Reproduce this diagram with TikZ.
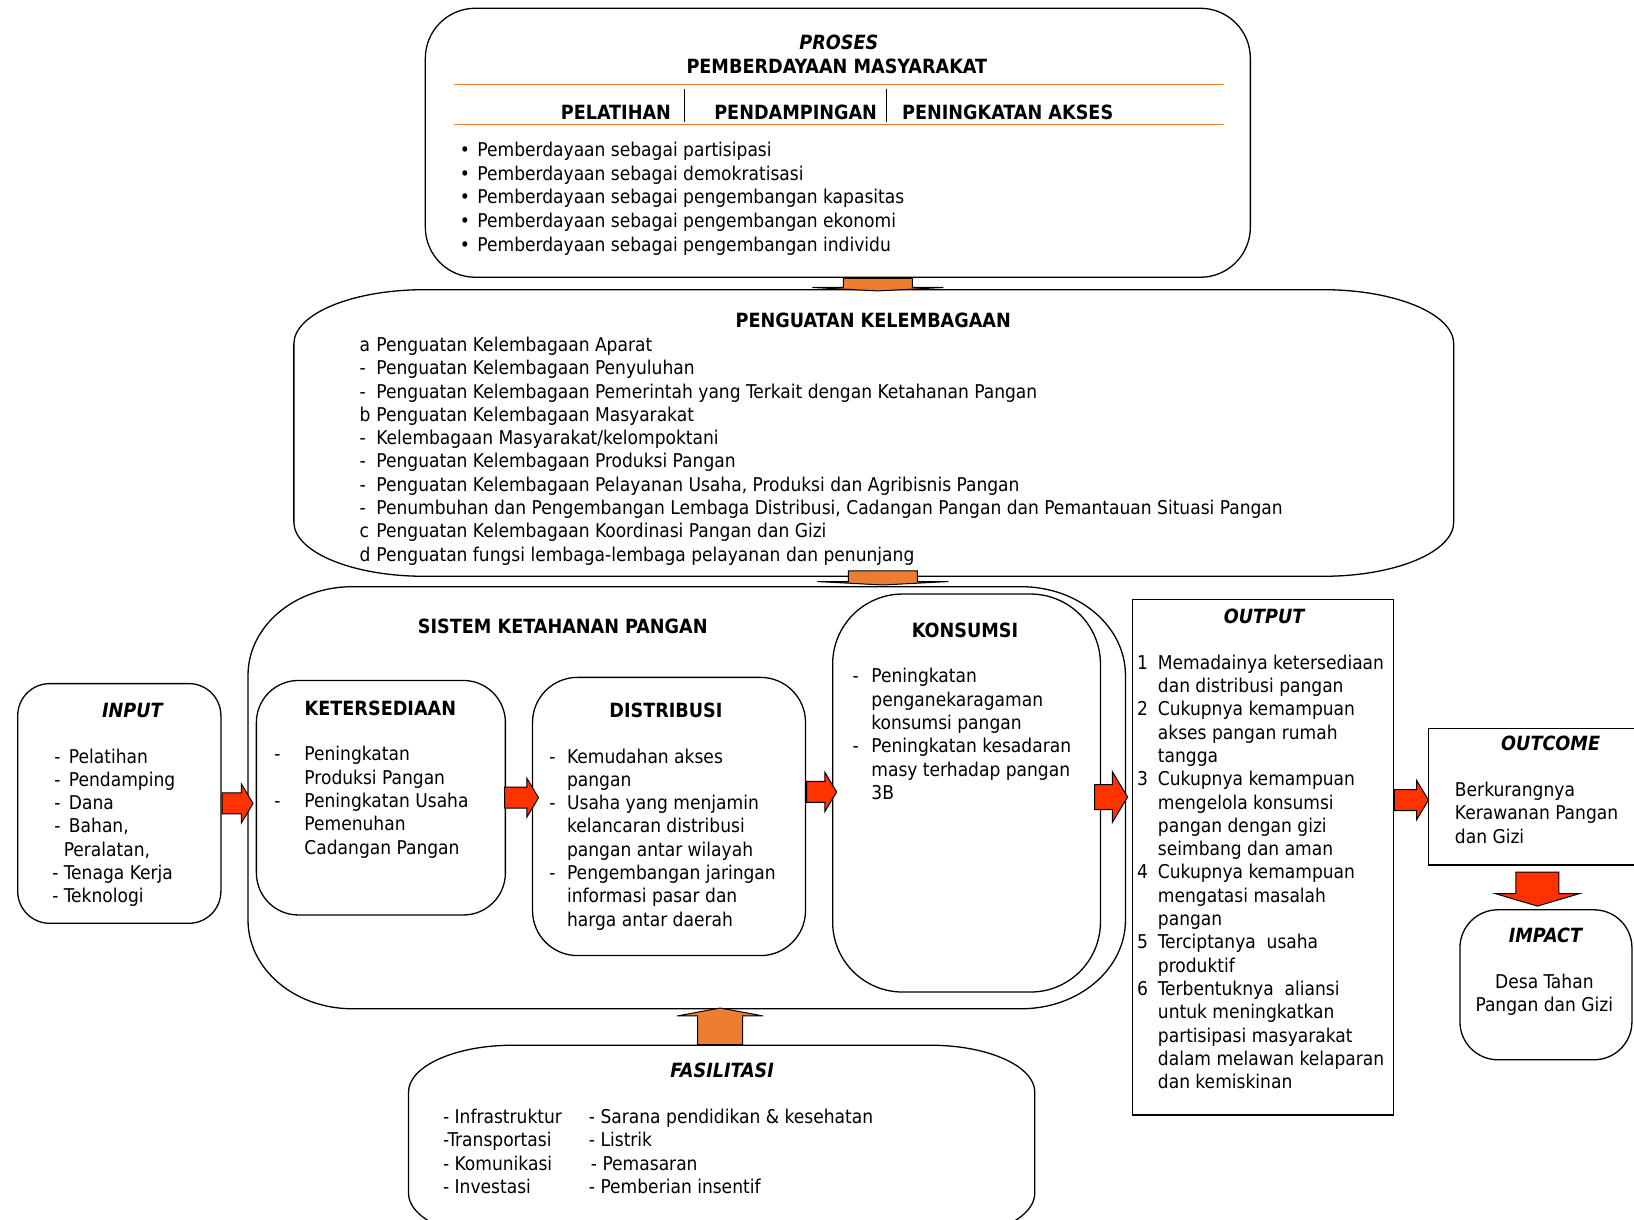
\documentclass[tikz,border=0pt]{standalone}
\usepackage{fontspec}
\setmainfont{DejaVu Sans Condensed}
\usetikzlibrary{shapes.arrows}

\definecolor{oranye}{RGB}{237,125,49}
\definecolor{merah}{RGB}{255,51,0}
\newcommand{\ukuran}{\fontsize{19}{23.3}\selectfont}
\newcommand{\ukuranjudul}{\fontsize{19.6}{23.3}\selectfont}
% kotak dengan sudut elips: x1 y1 x2 y2 rx ry
\newcommand{\kotaklonjong}[6]{%
    \draw[garis] (#1,#2+#6) arc[start angle=180, end angle=270, x radius=#5, y radius=#6]
        -- (#3-#5,#2) arc[start angle=270, end angle=360, x radius=#5, y radius=#6]
        -- (#3,#4-#6) arc[start angle=0, end angle=90, x radius=#5, y radius=#6]
        -- (#1+#5,#4) arc[start angle=90, end angle=180, x radius=#5, y radius=#6] -- cycle;}

\begin{document}
\begin{tikzpicture}[
    x=1.0421pt, y=-1.0421pt,
    font=\ukuran,
    garis/.style = {draw, line width=1.3pt},
    kotak/.style = {garis, inner sep=0pt},
    bulat/.style = {kotak, rounded corners=#1},
    wadah/.style = {inner sep=0pt},
    judul/.style = {font=\ukuranjudul\bfseries, anchor=base, yshift=-1.5pt},
    judulmiring/.style = {font=\ukuranjudul\bfseries\itshape, anchor=base, yshift=-1.5pt},
    daftar/.style = {anchor=base west, inner sep=0pt, yshift=-1.8pt},
    panahmerah/.style = {single arrow, draw, line width=1pt, fill=merah, inner sep=0pt, inner ysep=10pt,
        single arrow head extend=9pt, single arrow tip angle=118, anchor=tail},
    panahoranye/.style = {single arrow, draw, line width=1pt, fill=oranye, inner sep=0pt, anchor=tail},
]
    \useasboundingbox (0,0) rectangle (1568,1170);
    \clip (0,0) rectangle (1568,1170);

    % PROSES
    \node[bulat=50pt, minimum width=825pt, minimum height=269pt] (proses) at (804,137) {};
    \node[judulmiring] (prosesjudul) at (805,46) {PROSES};
    \node[judul] (pmjudul) at (803,69) {PEMBERDAYAAN MASYARAKAT};
    \draw[oranye, line width=1pt] (436,81) -- (1175,81) (436,119) -- (1175,119);
    \draw[line width=1pt] (657,85) -- (657,117) (851,85) -- (851,117);
    \node[judul] (pelatihan) at (591,113) {PELATIHAN};
    \node[judul] (pendampingan) at (763.5,113) {PENDAMPINGAN};
    \node[judul] (akses) at (967,113) {PENINGKATAN AKSES};
    \node[daftar, font=\fontsize{19}{23.7}\selectfont] (proseslist) at (441,148.5) {%
        \begin{tabular}[t]{@{}p{17.7pt}@{}l@{}}
        • & Pemberdayaan sebagai partisipasi\\
        • & Pemberdayaan sebagai demokratisasi\\
        • & Pemberdayaan sebagai pengembangan kapasitas\\
        • & Pemberdayaan sebagai pengembangan ekonomi\\
        • & Pemberdayaan sebagai pengembangan individu
        \end{tabular}};

    % PENGUATAN KELEMBAGAAN
    \kotaklonjong{282}{278}{1395}{553}{125}{52}
    \node[wadah, minimum width=1160pt, minimum height=286.6pt] (penguatan) at (838.5,415.5) {};
    \node[judul] (pkjudul) at (838,313) {PENGUATAN KELEMBAGAAN};
    \node[daftar] (pklist) at (345,335.5) {%
        \begin{tabular}[t]{@{}p{16.7pt}@{}l@{}}
        a & Penguatan Kelembagaan Aparat\\
        - & Penguatan Kelembagaan Penyuluhan\\
        - & Penguatan Kelembagaan Pemerintah yang Terkait dengan Ketahanan Pangan\\
        b & Penguatan Kelembagaan Masyarakat\\
        - & Kelembagaan Masyarakat/kelompoktani\\
        - & Penguatan Kelembagaan Produksi Pangan\\
        - & Penguatan Kelembagaan Pelayanan Usaha, Produksi dan Agribisnis Pangan\\
        - & Penumbuhan dan Pengembangan Lembaga Distribusi, Cadangan Pangan dan Pemantauan Situasi Pangan\\
        c & Penguatan Kelembagaan Koordinasi Pangan dan Gizi\\
        d & Penguatan fungsi lembaga-lembaga pelayanan dan penunjang
        \end{tabular}};

    % SISTEM KETAHANAN PANGAN
    \kotaklonjong{238}{563}{1080}{968}{100}{85}
    \node[wadah, minimum width=877.4pt, minimum height=422pt] (sistem) at (659,765.5) {};
    \node[judul] (sistemjudul) at (540,606) {SISTEM KETAHANAN PANGAN};

    \node[bulat=42pt, minimum width=249pt, minimum height=234.5pt] (ketersediaan) at (365.5,765.5) {};
    \node[judul] (ketjudul) at (365,685) {KETERSEDIAAN};
    \node[daftar] (ketlist) at (263,728.5) {%
        \begin{tabular}[t]{@{}p{30.2pt}@{}l@{}}
        - & Peningkatan\\
          & Produksi Pangan\\
        - & Peningkatan Usaha\\
          & Pemenuhan\\
          & Cadangan Pangan
        \end{tabular}};

    \node[bulat=45pt, minimum width=273pt, minimum height=278.2pt] (distribusi) at (642,783.5) {};
    \node[judul] (disjudul) at (639,687) {DISTRIBUSI};
    \node[daftar] (dislist) at (527,730.5) {%
        \begin{tabular}[t]{@{}p{17.7pt}@{}l@{}}
        - & Kemudahan akses\\
          & pangan\\
        - & Usaha yang menjamin\\
          & kelancaran distribusi\\
          & pangan antar wilayah\\
        - & Pengembangan jaringan\\
          & informasi pasar dan\\
          & harga antar daerah
        \end{tabular}};

    \node[bulat=70pt, minimum width=267.8pt, minimum height=398pt] (konsumsi) at (927.5,761) {};
    \node[judul] (konjudul) at (926,610) {KONSUMSI};
    \node[daftar] (konlist) at (818,653.5) {%
        \begin{tabular}[t]{@{}p{18.8pt}@{}l@{}}
        - & Peningkatan\\
          & penganekaragaman\\
          & konsumsi pangan\\
        - & Peningkatan kesadaran\\
          & masy terhadap pangan\\
          & 3B
        \end{tabular}};

    % INPUT
    \node[bulat=32pt, minimum width=203.2pt, minimum height=239.7pt] (input) at (114.5,771) {};
    \node[judulmiring] (inputjudul) at (127,687) {INPUT};
    \node[daftar] (inputlist) at (52,730.5) {%
        \begin{tabular}[t]{@{}p{14.6pt}@{}l@{}}
        - & Pelatihan\\
        - & Pendamping\\
        - & Dana\\
        - & Bahan,\\
        \multicolumn{2}{@{}l@{}}{\hspace{9.4pt}Peralatan,}\\
        \multicolumn{2}{@{}l@{}}{\hspace{-2pt}- Tenaga Kerja}\\
        \multicolumn{2}{@{}l@{}}{\hspace{-2pt}- Teknologi}
        \end{tabular}};

    % OUTPUT
    \node[kotak, minimum width=260.5pt, minimum height=515.8pt] (output) at (1212,822.5) {};
    \node[judulmiring] (outputjudul) at (1213,597) {OUTPUT};
    \node[daftar] (outputlist) at (1091,640.5) {%
        \begin{tabular}[t]{@{}p{20.8pt}@{}l@{}}
        1 & Memadainya ketersediaan\\
          & dan distribusi pangan\\
        2 & Cukupnya kemampuan\\
          & akses pangan rumah\\
          & tangga\\
        3 & Cukupnya kemampuan\\
          & mengelola konsumsi\\
          & pangan dengan gizi\\
          & seimbang dan aman\\
        4 & Cukupnya kemampuan\\
          & mengatasi masalah\\
          & pangan\\
        5 & Terciptanya\ \ usaha\\
          & produktif\\
        6 & Terbentuknya\ \ aliansi\\
          & untuk meningkatkan\\
          & partisipasi masyarakat\\
          & dalam melawan kelaparan\\
          & dan kemiskinan
        \end{tabular}};

    % OUTCOME dan IMPACT
    \node[kotak, minimum width=207.4pt, minimum height=136.5pt] (outcome) at (1470.5,764.5) {};
    \node[judulmiring] (outcomejudul) at (1488,719) {OUTCOME};
    \node[daftar] (outcometeks) at (1396,762.5) {%
        \begin{tabular}[t]{@{}l@{}}
        Berkurangnya\\
        Kerawanan Pangan\\
        dan Gizi
        \end{tabular}};

    \node[bulat=38pt, minimum width=172pt, minimum height=150pt] (impact) at (1483.5,945) {};
    \node[judulmiring] (impactjudul) at (1483,903) {IMPACT};
    \node[anchor=base, inner sep=0pt, yshift=-1.8pt] (impactteks) at (1482,946.5) {%
        \begin{tabular}[t]{@{}c@{}}
        Desa Tahan\\
        Pangan dan Gizi
        \end{tabular}};

    % FASILITASI
    \kotaklonjong{392}{1003}{993}{1190}{100}{45}
    \node[wadah, minimum width=626.3pt, minimum height=194.9pt] (fasilitasi) at (692.5,1096.5) {};
    \node[judulmiring] (fasjudul) at (693,1033) {FASILITASI};
    \node[daftar] (faslist) at (425,1076.5) {%
        \begin{tabular}[t]{@{}p{145.9pt}@{}l@{}}
        - Infrastruktur & - Sarana pendidikan \& kesehatan\\
        -Transportasi   & - Listrik\\
        - Komunikasi    & \hspace{2pt}- Pemasaran\\
        - Investasi     & - Pemberian insentif
        \end{tabular}};

    % panah antar kotak
    \node[panahoranye, minimum height=12.5pt, rotate=-90, inner ysep=34pt,
        single arrow head extend=31pt, single arrow tip angle=174] (o1) at ([xshift=40pt]proses.south) {};
    \node[panahoranye, minimum height=14pt, rotate=-90, inner ysep=34pt,
        single arrow head extend=31pt, single arrow tip angle=174] (o2) at ([xshift=9pt,yshift=6pt]penguatan.south) {};
    \node[panahoranye, minimum height=36.5pt, rotate=90, inner ysep=22pt,
        single arrow head extend=20.5pt, single arrow tip angle=159] (o3) at ([xshift=-1.5pt]fasilitasi.north) {};

    \node[panahmerah, minimum height=31pt] (p1) at (input.east) {};
    \node[panahmerah, minimum height=34pt] (p2) at ([xshift=-2pt]ketersediaan.east) {};
    \node[panahmerah, minimum height=30pt] (p3) at ([yshift=24.5pt]distribusi.east) {};
    \node[panahmerah, minimum height=33pt, inner ysep=12pt, single arrow head extend=13pt] (p4) at ([xshift=-7pt,yshift=-4pt]konsumsi.east) {};
    \node[panahmerah, minimum height=34pt] (p5) at ([yshift=57pt]output.east) {};
    \node[panahmerah, minimum height=34pt, rotate=-90, inner ysep=21pt,
        single arrow head extend=20.5pt, single arrow tip angle=147] (p6) at ([xshift=5pt,yshift=-6pt]outcome.south) {};
\end{tikzpicture}
\end{document}
